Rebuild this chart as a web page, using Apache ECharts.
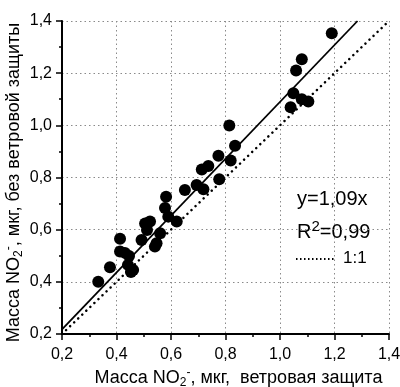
<!DOCTYPE html>
<html>
<head>
<meta charset="utf-8">
<script src="https://cdn.jsdelivr.net/npm/echarts@6/dist/echarts.min.js"></script>
<style>
  html, body { margin: 0; padding: 0; background: #fff; }
  #chart { width: 400px; height: 387px; }
</style>
</head>
<body>
<div id="chart"></div>
<script>
// масса NO2- : ветровая защита (x) vs без ветровой защиты (y)
const xWith = [0.333, 0.376, 0.413, 0.413, 0.431, 0.446, 0.442, 0.461, 0.453, 0.492,
  0.505, 0.523, 0.512, 0.541, 0.547, 0.560, 0.582, 0.578, 0.590, 0.621,
  0.651, 0.694, 0.719, 0.777, 0.713, 0.737, 0.774, 0.819, 0.835, 0.814,
  1.190, 1.080, 1.059, 1.049, 1.080, 1.104, 1.039];
const yWithout = [0.400, 0.456, 0.565, 0.516, 0.511, 0.499, 0.465, 0.445, 0.438, 0.560,
  0.624, 0.631, 0.599, 0.535, 0.548, 0.586, 0.726, 0.683, 0.650, 0.631,
  0.752, 0.771, 0.755, 0.793, 0.831, 0.844, 0.883, 0.865, 0.922, 0.999,
  1.353, 1.253, 1.210, 1.123, 1.100, 1.091, 1.069];
const fitX = [0.2, 1.2844];
const fitY = [0.218, 1.4];
const oneX = [0.2, 1.4];
const oneY = [0.2, 1.4];

const FONT = 'Liberation Sans, Arial, sans-serif';
const INK = '#000';
const comma = v => v.toFixed(1).replace('.', ',');
const zip = (a, b) => a.map((v, i) => [v, b[i]]);

const rich = {
  sub: { fontSize: 12, fontFamily: FONT, color: INK, padding: [10, 0, 0, 0] },
  sup: { fontSize: 12, fontFamily: FONT, color: INK, padding: [0, 0, 10, 0] },
};

function axis(extra) {
  return {
    type: 'value',
    min: 0.2,
    max: 1.4,
    interval: 0.2,
    axisLine: { lineStyle: { color: INK, width: 2 } },
    axisTick: { show: true, length: 6, lineStyle: { color: INK, width: 1.5 } },
    minorTick: { show: true, splitNumber: 2, length: 3, lineStyle: { color: INK, width: 1.5 } },
    splitLine: { show: true, lineStyle: { color: '#8a8a8a', type: [1.5, 3], width: 1 } },
    nameLocation: 'middle',
    nameMoveOverlap: false,
    ...extra,
  };
}

const chart = echarts.init(document.getElementById('chart'));
chart.setOption({
  backgroundColor: '#fff',
  animation: false,
  grid: { left: 62, right: 11, top: 21, bottom: 53, containLabel: false, outerBoundsMode: 'none' },
  xAxis: axis({
    name: 'Масса NO{sub|2}{sup|-}, мкг,  ветровая защита',
    nameGap: 33,
    nameTextStyle: { color: INK, fontSize: 18, fontFamily: FONT, padding: [0, 0, 0, 26], rich },
    axisLabel: { color: INK, fontSize: 16, fontFamily: FONT, formatter: comma, margin: 13 },
  }),
  yAxis: axis({
    name: 'Масса NO{sub|2}{sup|-}, мкг, без ветровой защиты',
    nameGap: 37,
    nameTextStyle: { color: INK, fontSize: 18, fontFamily: FONT, padding: [0, 10, 0, 0], rich },
    axisLabel: { color: INK, fontSize: 16, fontFamily: FONT, formatter: comma, margin: 10 },
  }),
  series: [
    {
      type: 'line',
      data: zip(oneX, oneY),
      symbol: 'none',
      lineStyle: { color: INK, width: 2.5, type: [0.1, 5.5], cap: 'round' },
      z: 2,
    },
    {
      type: 'line',
      data: zip(fitX, fitY),
      symbol: 'none',
      lineStyle: { color: INK, width: 1.8 },
      z: 3,
    },
    {
      type: 'scatter',
      data: zip(xWith, yWithout),
      symbolSize: 12,
      itemStyle: { color: INK, opacity: 1 },
      z: 4,
    },
  ],
  graphic: [
    {
      type: 'text', left: 297, top: 189,
      style: { text: 'y=1,09x', fontSize: 20, fontFamily: FONT, fill: INK },
    },
    {
      type: 'text', left: 297, top: 219,
      style: {
        text: 'R{s|2}=0,99', fontSize: 20, fontFamily: FONT, fill: INK,
        rich: { s: { fontSize: 15, fontFamily: FONT, padding: [0, 0, 12, 0] } },
      },
    },
    {
      type: 'line',
      shape: { x1: 296, y1: 259, x2: 336, y2: 259 },
      style: { stroke: INK, lineWidth: 2, lineDash: [1.5, 2.5] },
    },
    {
      type: 'text', left: 343, top: 250,
      style: { text: '1:1', fontSize: 17, fontFamily: FONT, fill: INK },
    },
  ],
});
</script>
</body>
</html>
